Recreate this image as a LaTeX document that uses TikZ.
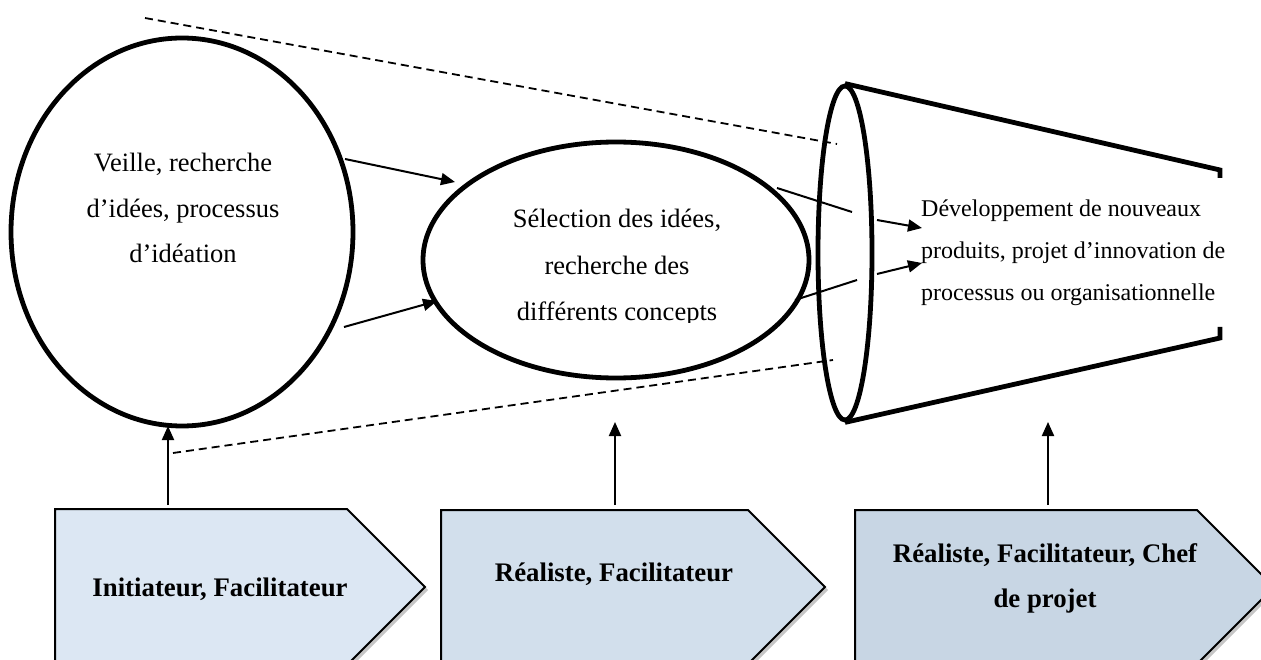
\documentclass[tikz,border=0pt]{standalone}
\usepackage{fontspec}
\setmainfont{Liberation Serif}
\usetikzlibrary{arrows.meta,shapes.geometric,shadows}
\definecolor{roleA}{RGB}{220,231,243}
\definecolor{roleB}{RGB}{210,223,236}
\definecolor{roleC}{RGB}{200,214,228}
\begin{document}
\begin{tikzpicture}[x=1pt,y=-1pt,
  bigellipse/.style={draw, ellipse, line width=4.8pt, inner sep=0pt},
  conn/.style={line width=2pt, -{Triangle[length=14pt,width=12pt]}},
  plainline/.style={line width=2pt},
  guide/.style={line width=1.8pt, dash pattern=on 8pt off 5pt},
  txt/.style={font=\fontsize{26.5}{30}\selectfont, inner sep=0pt, anchor=base},
  rtxt/.style={font=\fontsize{24}{28}\selectfont, inner sep=0pt, anchor=base west},
  btxt/.style={font=\fontsize{26.8}{30}\selectfont\bfseries, inner sep=0pt, anchor=base},
  rolebox/.style={draw=black, line width=2pt, line join=miter,
    drop shadow={shadow xshift=3pt, shadow yshift=-3pt, opacity=0.45}},
  conestroke/.style={line width=4.8pt, line join=miter}
]
\useasboundingbox (0,0) rectangle (1261,660);
\begin{scope}
\clip (0,0) rectangle (1261,660);

% role boxes
\path[rolebox, fill=roleA] (55,509) -- (347,509) -- (425,587) -- (347,665) -- (55,665) -- cycle;
\path[rolebox, fill=roleB] (441,510) -- (748,510) -- (825,587) -- (748,664) -- (441,664) -- cycle;
\path[rolebox, fill=roleC] (855,510) -- (1197,510) -- (1274,587) -- (1197,664) -- (855,664) -- cycle;

\node[btxt] (r1) at (220,596) {Initiateur, Facilitateur};
\node[btxt] (r2) at (614,581) {Réaliste, Facilitateur};
\node[btxt] (r3a) at (1045,562) {Réaliste, Facilitateur, Chef};
\node[btxt] (r3b) at (1045,607) {de projet};

\coordinate (b1) at (168,505);
\coordinate (b2) at (615,505);
\coordinate (b3) at (1048,505);

% ellipses
\node[bigellipse, minimum width=342pt, minimum height=388pt] (e1) at (182,232) {};
\node[bigellipse, minimum width=386pt, minimum height=236pt] (e2) at (616,260) {};
\node[bigellipse, minimum width=54pt, minimum height=334pt] (c1) at (845,253) {};

% cone body
\coordinate (ctr) at (1220,170);
\coordinate (cbr) at (1220,338);
\draw[conestroke] (c1.north) -- (ctr) -- (1220,178);
\draw[conestroke] (c1.south) -- (cbr) -- (1220,327);

% texts
\node[txt] (t1a) at (183,172) {Veille, recherche};
\node[txt] (t1b) at (183,218) {d’idées, processus};
\node[txt] (t1c) at (183,263) {d’idéation};

\begin{scope}
\clip (420,140) rectangle (810,323);
\node[txt] (t2a) at (617,228) {Sélection des idées,};
\node[txt] (t2b) at (617,275) {recherche des};
\node[txt] (t2c) at (617,320) {différents concepts};
\end{scope}

\node[rtxt] (t3a) at (921,217) {Développement de nouveaux};
\node[rtxt] (t3b) at (921,259) {produits, projet d’innovation de};
\node[rtxt] (t3c) at (921,301) {processus ou organisationnelle};

% dashed guides
\coordinate (g1s) at (145,18);
\coordinate (g1e) at (837,144);
\coordinate (g2s) at (173,453);
\coordinate (g2e) at (833,360);
\draw[guide] (g1s) -- (g1e);
\draw[guide] (g2s) -- (g2e);

% arrows e1 -> e2
\coordinate (p1s) at (345,159);
\coordinate (p1e) at (455,182);
\coordinate (p2s) at (344,327);
\coordinate (p2e) at (437,301);
\draw[conn] (p1s) -- (p1e);
\draw[conn] (p2s) -- (p2e);

% arrows e2 -> cone text
\coordinate (q1s) at (777,188);
\coordinate (q1m) at (852,212);
\coordinate (q1a) at (877,220);
\coordinate (q1e) at (922,228);
\draw[plainline] (q1s) -- (q1m);
\draw[conn] (q1a) -- (q1e);
\coordinate (q2s) at (795,300);
\coordinate (q2m) at (857,280);
\coordinate (q2a) at (877,274);
\coordinate (q2e) at (922,263);
\draw[plainline] (q2s) -- (q2m);
\draw[conn] (q2a) -- (q2e);

% vertical arrows
\coordinate (v1) at (168,426);
\coordinate (v2) at (615,422);
\coordinate (v3) at (1048,422);
\draw[conn] (b1) -- (v1);
\draw[conn] (b2) -- (v2);
\draw[conn] (b3) -- (v3);
\end{scope}
\end{tikzpicture}
\end{document}
